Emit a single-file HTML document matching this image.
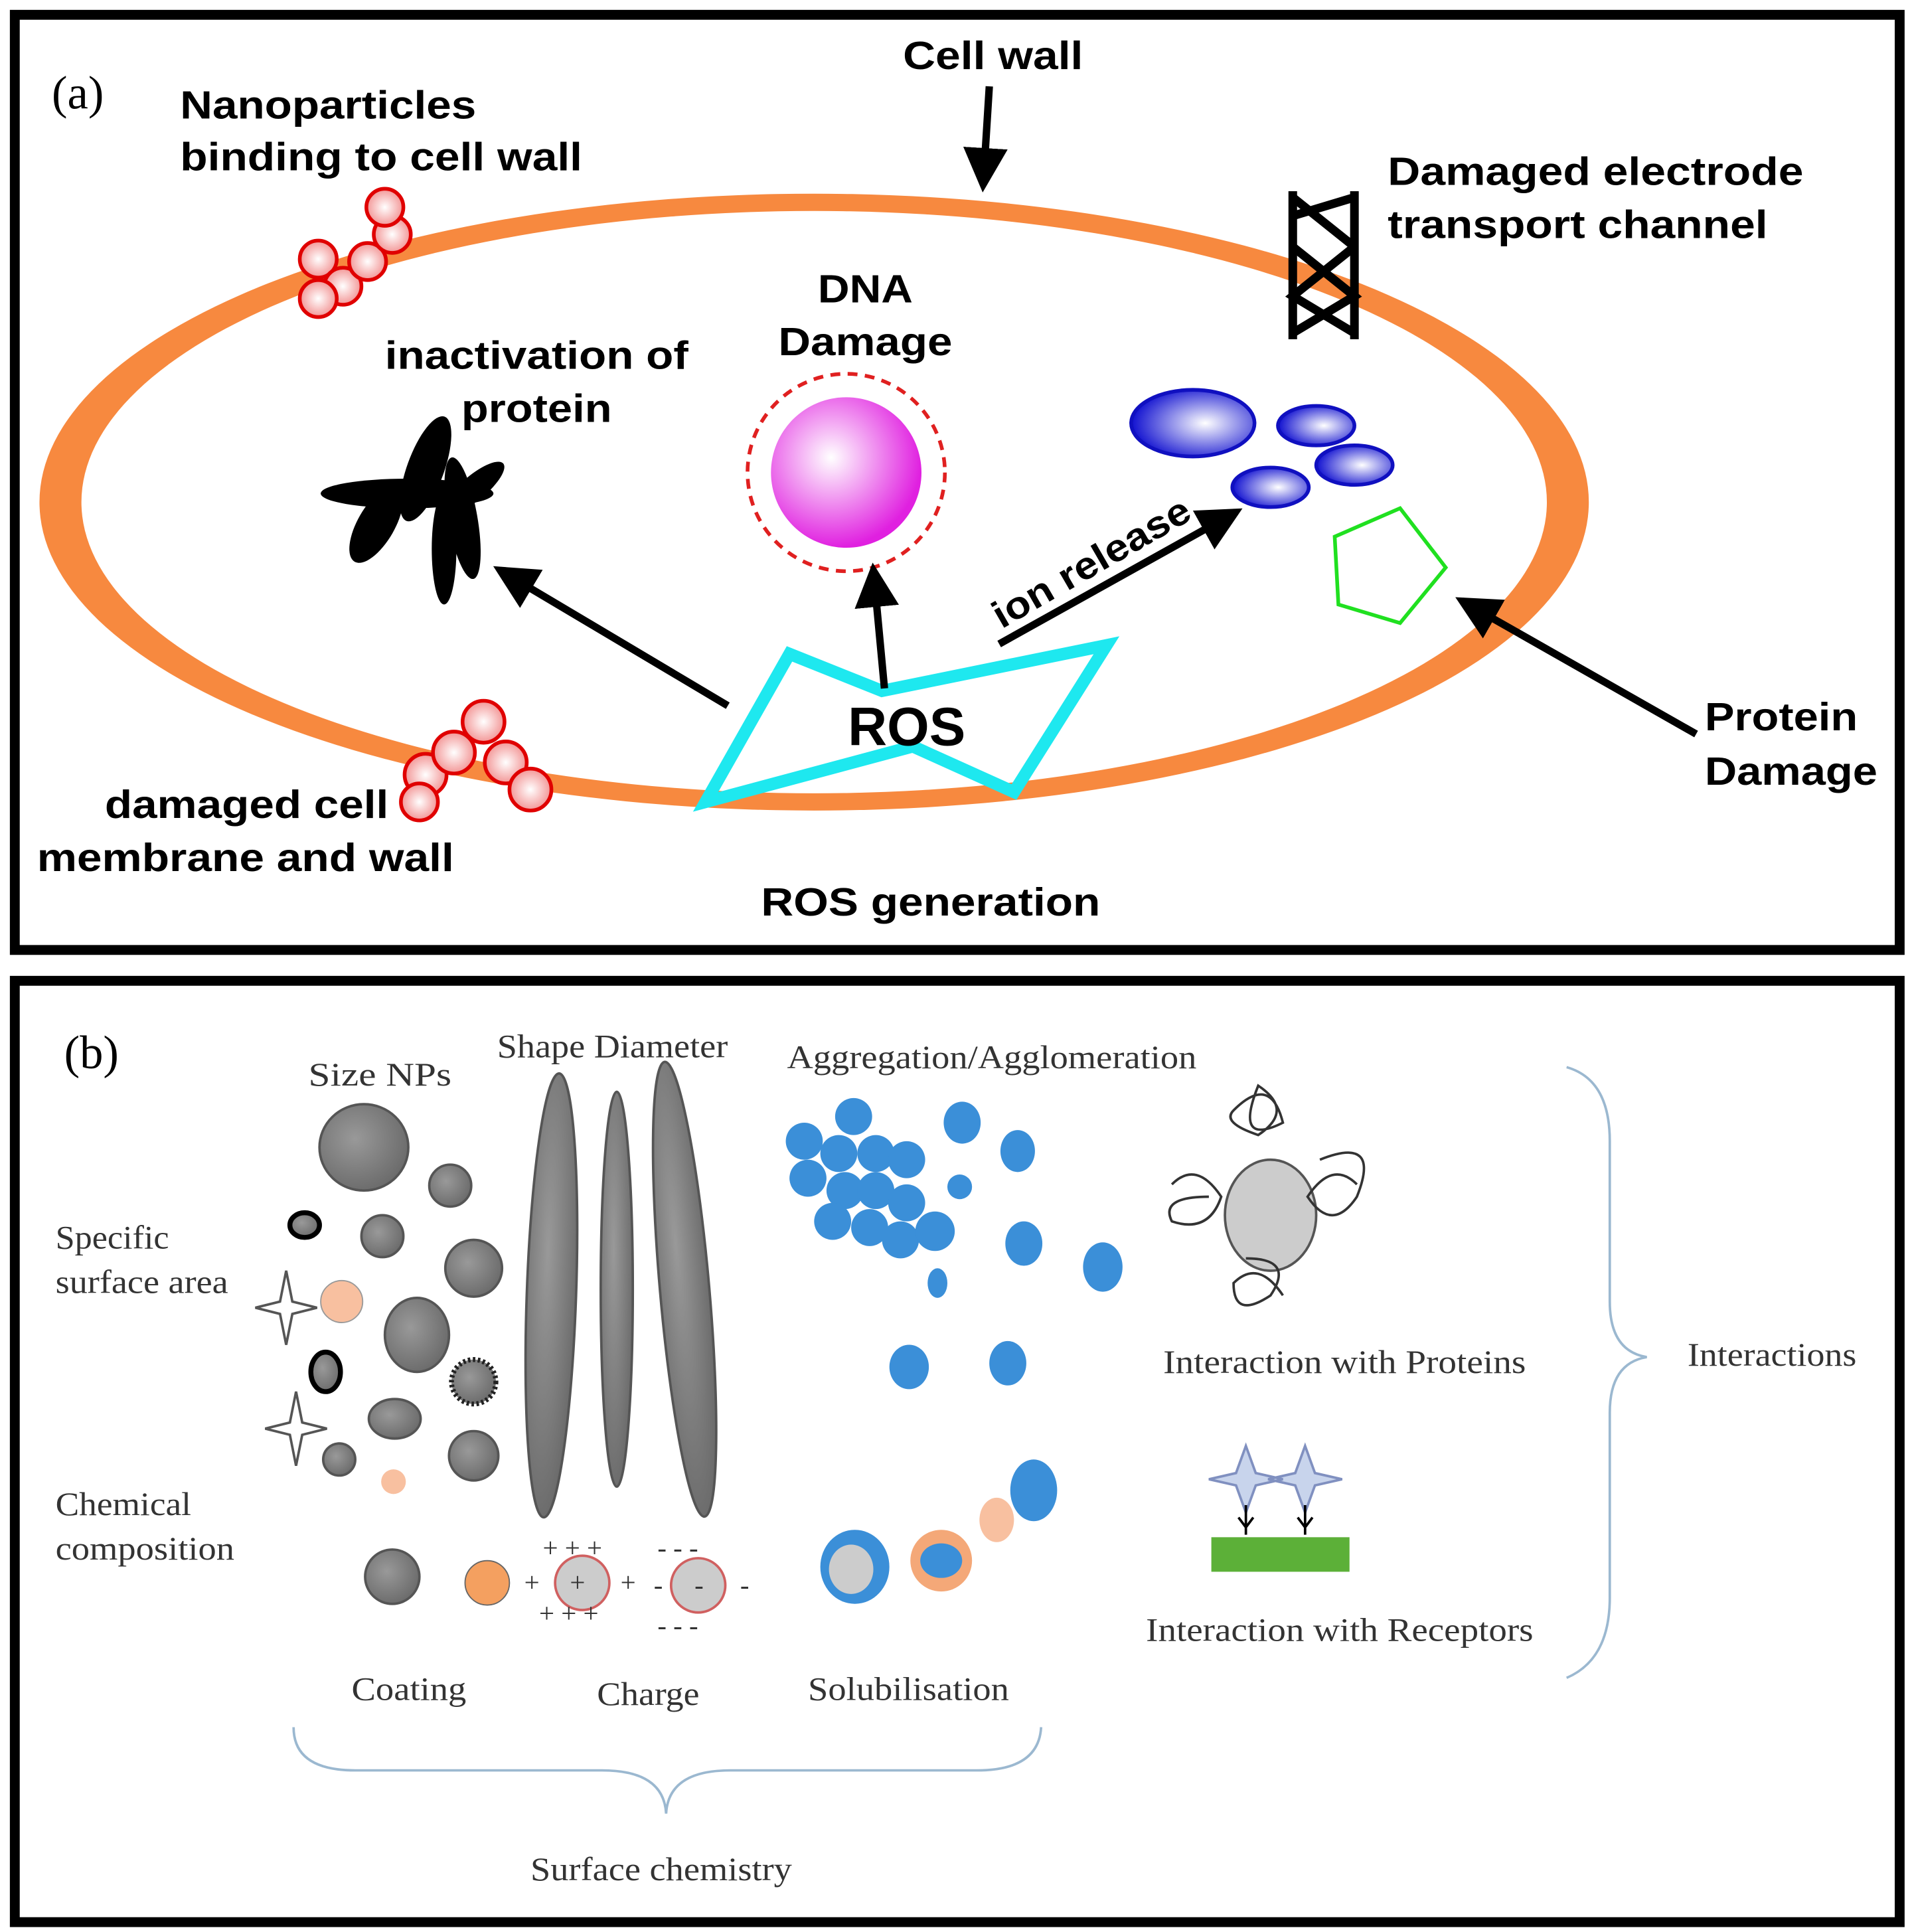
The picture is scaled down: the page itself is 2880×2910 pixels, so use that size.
<!DOCTYPE html>
<html><head><meta charset="utf-8"><style>
html,body{margin:0;padding:0;background:#fff;}
svg{display:block;}
.b{font-family:"Liberation Sans",sans-serif;font-weight:bold;fill:#000;}
.s{font-family:"Liberation Serif",serif;fill:#333;}
</style></head><body>
<svg width="2880" height="2910" viewBox="0 0 1550 1566" preserveAspectRatio="none" xmlns="http://www.w3.org/2000/svg">
<defs>
<radialGradient id="pk" cx="0.4" cy="0.4" r="0.6"><stop offset="0" stop-color="#fff"/><stop offset="1" stop-color="#e020e0"/></radialGradient>
<radialGradient id="bl" cx="0.6" cy="0.5" r="0.6"><stop offset="0" stop-color="#fff"/><stop offset="1" stop-color="#1010d0"/></radialGradient>
<radialGradient id="rd" cx="0.5" cy="0.5" r="0.6"><stop offset="0" stop-color="#fff"/><stop offset="1" stop-color="#f08080"/></radialGradient>
<radialGradient id="gr" cx="0.4" cy="0.4" r="0.7"><stop offset="0" stop-color="#999"/><stop offset="1" stop-color="#666"/></radialGradient>
<marker id="ar" markerWidth="6" markerHeight="6" refX="5" refY="3" orient="auto" markerUnits="strokeWidth"><path d="M0,0 L6,3 L0,6 z" fill="#000"/></marker>
</defs>
<rect width="1550" height="1566" fill="#fff"/>
<!-- panel a -->
<rect x="12" y="12" width="1528" height="758" fill="none" stroke="#000" stroke-width="8"/>
<ellipse cx="660" cy="407" rx="628" ry="250" fill="#f7893f"/>
<ellipse cx="660" cy="407" rx="594" ry="236" fill="#fff"/>
<text x="42" y="88" font-family="Liberation Serif,serif" font-size="38" fill="#000">(a)</text>
<g class="b" font-size="32">
<text x="146" y="96" textLength="240" lengthAdjust="spacingAndGlyphs">Nanoparticles</text>
<text x="146" y="138" textLength="326" lengthAdjust="spacingAndGlyphs">binding to cell wall</text>
<text x="732" y="56" textLength="146" lengthAdjust="spacingAndGlyphs">Cell wall</text>
<text x="1125" y="150" textLength="337" lengthAdjust="spacingAndGlyphs">Damaged electrode</text>
<text x="1125" y="193" textLength="308" lengthAdjust="spacingAndGlyphs">transport channel</text>
<text x="663" y="245" textLength="77" lengthAdjust="spacingAndGlyphs">DNA</text>
<text x="631" y="288" textLength="141" lengthAdjust="spacingAndGlyphs">Damage</text>
<text x="312" y="299" textLength="246" lengthAdjust="spacingAndGlyphs">inactivation of</text>
<text x="374" y="342" textLength="122" lengthAdjust="spacingAndGlyphs">protein</text>
<text x="1382" y="592" textLength="124" lengthAdjust="spacingAndGlyphs">Protein</text>
<text x="1382" y="636" textLength="140" lengthAdjust="spacingAndGlyphs">Damage</text>
<text x="85" y="663" textLength="230" lengthAdjust="spacingAndGlyphs">damaged cell</text>
<text x="30" y="706" textLength="338" lengthAdjust="spacingAndGlyphs">membrane and wall</text>
<text x="617" y="742" textLength="275" lengthAdjust="spacingAndGlyphs">ROS generation</text>
</g>
<line x1="802" y1="70" x2="797" y2="150" stroke="#000" stroke-width="6" marker-end="url(#ar)"/>
<g stroke="#000" stroke-width="7" fill="none"><line x1="1048" y1="155" x2="1048" y2="275"/><line x1="1098" y1="155" x2="1098" y2="275"/><path d="M1048,175 L1098,160 M1048,200 L1098,240 L1048,270 M1098,200 L1048,240 L1098,270 M1048,160 L1098,200"/></g>
<circle cx="686" cy="383" r="80" fill="none" stroke="#e02020" stroke-width="3" stroke-dasharray="8,6"/>
<circle cx="686" cy="383" r="61" fill="url(#pk)"/>
<g fill="#000"><ellipse cx="330" cy="400" rx="70" ry="12"/><ellipse cx="345" cy="380" rx="15" ry="45" transform="rotate(20 345 380)"/><ellipse cx="375" cy="420" rx="12" ry="50" transform="rotate(-10 375 420)"/><ellipse cx="305" cy="425" rx="15" ry="35" transform="rotate(30 305 425)"/><ellipse cx="385" cy="395" rx="30" ry="10" transform="rotate(-40 385 395)"/><ellipse cx="360" cy="445" rx="10" ry="45"/></g>
<g stroke="#1010c0" stroke-width="3"><ellipse cx="967" cy="343" rx="50" ry="27" fill="url(#bl)"/><ellipse cx="1067" cy="345" rx="31" ry="16" fill="url(#bl)"/><ellipse cx="1098" cy="377" rx="31" ry="16" fill="url(#bl)"/><ellipse cx="1030" cy="395" rx="31" ry="16" fill="url(#bl)"/></g>
<polygon points="1135,412 1172,460 1135,505 1085,490 1082,435" fill="none" stroke="#20e020" stroke-width="3"/>
<polygon points="640,530 715,560 897,523 822,642 740,605 572,650" fill="none" stroke="#1ee8ef" stroke-width="10"/>
<text class="b" x="735" y="604" font-size="44" text-anchor="middle">ROS</text>
<g stroke="#000" stroke-width="6" fill="none">
<line x1="590" y1="572" x2="405" y2="462" marker-end="url(#ar)"/>
<line x1="717" y1="558" x2="708" y2="462" marker-end="url(#ar)"/>
<line x1="810" y1="522" x2="1002" y2="415" marker-end="url(#ar)"/>
<line x1="1375" y1="595" x2="1185" y2="487" marker-end="url(#ar)"/>
</g>
<text class="b" x="0" y="0" font-size="31" textLength="180" lengthAdjust="spacingAndGlyphs" transform="translate(812,510) rotate(-30)">ion release</text>
<g fill="url(#rd)" stroke="#e00000" stroke-width="3">
<circle cx="258" cy="210" r="15"/><circle cx="278" cy="232" r="15"/><circle cx="258" cy="242" r="15"/><circle cx="298" cy="212" r="15"/><circle cx="318" cy="190" r="15"/><circle cx="312" cy="168" r="15"/>
<circle cx="345" cy="628" r="17"/><circle cx="368" cy="610" r="17"/><circle cx="392" cy="585" r="17"/><circle cx="410" cy="618" r="17"/><circle cx="430" cy="640" r="17"/><circle cx="340" cy="650" r="15"/>
</g>
<!-- panel b -->
<rect x="12" y="795" width="1528" height="763" fill="none" stroke="#000" stroke-width="8"/>
<text x="52" y="866" font-family="Liberation Serif,serif" font-size="38" fill="#000">(b)</text>
<g class="s" font-size="27">
<text x="250" y="880" textLength="116" lengthAdjust="spacingAndGlyphs">Size  NPs</text>
<text x="403" y="857" textLength="187" lengthAdjust="spacingAndGlyphs">Shape  Diameter</text>
<text x="638" y="866" textLength="332" lengthAdjust="spacingAndGlyphs">Aggregation/Agglomeration</text>
<text x="45" y="1012" textLength="92" lengthAdjust="spacingAndGlyphs">Specific</text><text x="45" y="1048" textLength="140" lengthAdjust="spacingAndGlyphs">surface area</text>
<text x="45" y="1228" textLength="110" lengthAdjust="spacingAndGlyphs">Chemical</text><text x="45" y="1264" textLength="145" lengthAdjust="spacingAndGlyphs">composition</text>
<text x="285" y="1378" textLength="93" lengthAdjust="spacingAndGlyphs">Coating</text>
<text x="484" y="1382" textLength="83" lengthAdjust="spacingAndGlyphs">Charge</text>
<text x="655" y="1378" textLength="163" lengthAdjust="spacingAndGlyphs">Solubilisation</text>
<text x="943" y="1113" textLength="294" lengthAdjust="spacingAndGlyphs">Interaction  with Proteins</text>
<text x="929" y="1330" textLength="314" lengthAdjust="spacingAndGlyphs">Interaction  with Receptors</text>
<text x="1368" y="1107" textLength="137" lengthAdjust="spacingAndGlyphs">Interactions</text>
<text x="430" y="1524" textLength="212" lengthAdjust="spacingAndGlyphs">Surface chemistry</text>
</g>
<g fill="url(#gr)" stroke="#555" stroke-width="2">
<ellipse cx="295" cy="930" rx="36" ry="35"/><circle cx="365" cy="961" r="17"/><ellipse cx="247" cy="993" rx="12" ry="10" stroke="#000" stroke-width="4"/><circle cx="310" cy="1002" r="17"/><circle cx="384" cy="1028" r="23"/><ellipse cx="338" cy="1082" rx="26" ry="30"/><ellipse cx="264" cy="1112" rx="12" ry="16" stroke="#000" stroke-width="4"/><circle cx="384" cy="1120" r="18" stroke="#222" stroke-width="4" stroke-dasharray="2,2"/><ellipse cx="320" cy="1150" rx="21" ry="16"/><circle cx="275" cy="1183" r="13"/><circle cx="384" cy="1180" r="20"/><circle cx="318" cy="1278" r="22"/>
<ellipse cx="447" cy="1050" rx="20" ry="180" transform="rotate(2 447 1050)"/><ellipse cx="500" cy="1045" rx="13" ry="160"/><ellipse cx="555" cy="1045" rx="20" ry="185" transform="rotate(-5 555 1045)"/>
<circle cx="472" cy="1283" r="22" fill="#ccc" stroke="#d06060"/><circle cx="566" cy="1285" r="22" fill="#ccc" stroke="#d06060"/>
</g>
<circle cx="277" cy="1055" r="17" fill="#f8c0a0" stroke="#999"/><circle cx="319" cy="1201" r="10" fill="#f8c0a0"/><circle cx="395" cy="1283" r="18" fill="#f4a060" stroke="#666"/>
<path d="M232,1030 l5,25 l20,5 l-20,5 l-5,25 l-5,-25 l-20,-5 l20,-5z M240,1128 l5,25 l20,5 l-20,5 l-5,25 l-5,-25 l-20,-5 l20,-5z" fill="#fff" stroke="#555" stroke-width="2"/>
<g class="s" font-size="22" fill="#000"><text x="462" y="1290">+</text><text x="440" y="1262">+ + +</text><text x="425" y="1290">+</text><text x="503" y="1290">+</text><text x="437" y="1315">+ + +</text><text x="563" y="1292">-</text><text x="533" y="1262">-  -  -</text><text x="530" y="1292">-</text><text x="600" y="1292">-</text><text x="533" y="1325">-  -  -</text></g>
<g fill="#3b8fd8">
<circle cx="652" cy="925" r="15"/><circle cx="692" cy="905" r="15"/><circle cx="680" cy="935" r="15"/><circle cx="710" cy="935" r="15"/><circle cx="735" cy="940" r="15"/><circle cx="655" cy="955" r="15"/><circle cx="685" cy="965" r="15"/><circle cx="710" cy="965" r="15"/><circle cx="735" cy="975" r="15"/><circle cx="675" cy="990" r="15"/><circle cx="705" cy="995" r="15"/><circle cx="730" cy="1005" r="15"/><circle cx="758" cy="998" r="16"/>
<ellipse cx="780" cy="910" rx="15" ry="17"/><ellipse cx="825" cy="933" rx="14" ry="17"/><circle cx="778" cy="962" r="10"/><ellipse cx="830" cy="1008" rx="15" ry="18"/><ellipse cx="894" cy="1027" rx="16" ry="20"/><ellipse cx="760" cy="1040" rx="8" ry="12"/><ellipse cx="737" cy="1108" rx="16" ry="18"/><ellipse cx="817" cy="1105" rx="15" ry="18"/><ellipse cx="838" cy="1208" rx="19" ry="25"/>
<ellipse cx="693" cy="1270" rx="28" ry="30"/><ellipse cx="763" cy="1265" rx="25" ry="25" fill="#f4a878"/>
</g>
<ellipse cx="690" cy="1272" rx="18" ry="20" fill="#ccc"/><ellipse cx="763" cy="1265" rx="17" ry="14" fill="#3b8fd8"/><ellipse cx="808" cy="1232" rx="14" ry="18" fill="#f8c0a0"/>
<ellipse cx="1030" cy="985" rx="37" ry="45" fill="#ccc" stroke="#555" stroke-width="2"/>
<g fill="none" stroke="#333" stroke-width="2"><path d="M1000,900 q30,-30 40,10 q-40,20 -20,-30 q30,20 0,40 q-30,-10 -20,-20"/><path d="M1070,940 q50,-20 30,30 q-20,30 -40,0 q20,-30 40,-10"/><path d="M950,960 q20,-20 40,10 q-10,30 -40,20 q-10,-20 30,-20"/><path d="M1010,1020 q40,0 20,30 q-30,20 -30,-10 q20,-20 40,10"/></g>
<rect x="982" y="1246" width="112" height="28" fill="#5cb038"/>
<path d="M1010,1172 l8,22 l22,5 l-22,5 l-8,22 l-8,-22 l-22,-5 l22,-5z M1058,1172 l8,22 l22,5 l-22,5 l-8,22 l-8,-22 l-22,-5 l22,-5z" fill="#c8d4ec" stroke="#8090c0" stroke-width="2"/>
<path d="M1010,1220 v24 M1004,1230 l6,8 l6,-8 M1058,1220 v24 M1052,1230 l6,8 l6,-8" stroke="#000" stroke-width="2" fill="none"/>
<path d="M1270,865 q35,10 35,60 v130 q0,40 30,45 q-30,5 -30,45 v150 q0,50 -35,65" fill="none" stroke="#9bb8d0" stroke-width="2"/>
<path d="M238,1400 q0,35 50,35 h200 q50,0 52,35 q2,-35 52,-35 h200 q50,0 52,-35" fill="none" stroke="#9bb8d0" stroke-width="2"/>
</svg>
</body></html>
